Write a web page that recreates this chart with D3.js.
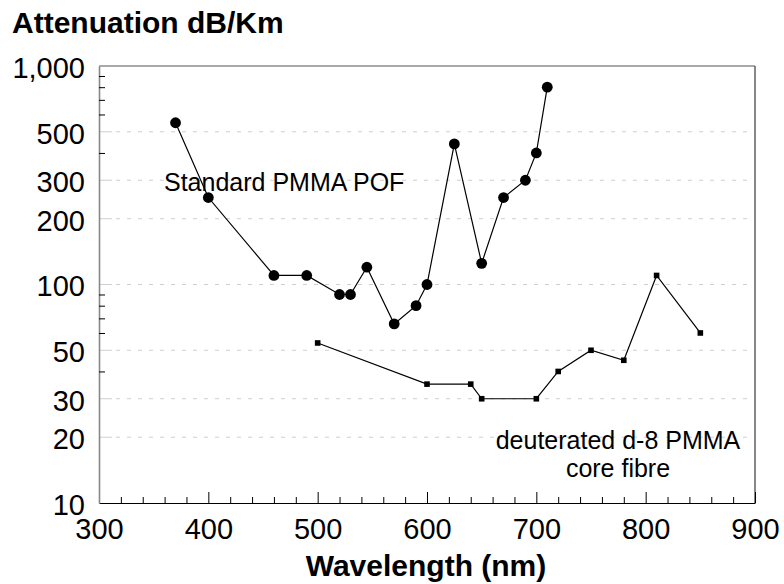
<!DOCTYPE html>
<html>
<head>
<meta charset="utf-8">
<script src="https://cdn.jsdelivr.net/npm/d3@7.9.0/dist/d3.min.js"></script>
<style>
  body { margin: 0; background: #fff; }
  svg { font-family: "Liberation Sans", Arial, sans-serif; }
</style>
</head>
<body>
<svg id="chart" width="784" height="584"></svg>
<script>
// standard PMMA POF (circles)
const pmmaWl = [370, 400, 460, 490, 520, 530, 545, 570, 590, 600, 625, 650, 670, 690, 700, 710];
const pmmaAtt = [550, 250, 110, 110, 90, 90, 120, 66, 80, 100, 440, 125, 250, 300, 400, 800];

// deuterated d-8 PMMA core fibre (squares)
const deutWl = [500, 600, 640, 650, 700, 720, 750, 780, 810, 850];
const deutAtt = [54, 35, 35, 30, 30, 40, 50, 45, 110, 60];

const xMajor = [300, 400, 500, 600, 700, 800, 900];
const xMinor = d3.range(320, 900, 20).filter(v => v % 100 !== 0);
const yMajor = [10, 20, 30, 50, 100, 200, 300, 500, 1000];
const yGrid = [20, 30, 50, 100, 200, 300, 500];
const yMinor = [40, 60, 70, 80, 90, 400, 600, 700, 800, 900];

const svg = d3.select("#chart");
const plotL = 99, plotR = 755, plotT = 66, plotB = 503;

const x = d3.scaleLinear().domain([300, 900]).range([plotL, plotR]);
const y = d3.scaleLog().domain([10, 1000]).range([plotB, plotT]);

// gridlines
const grid = svg.append("g");
yGrid.forEach(v => {
  grid.append("line")
    .attr("x1", plotL).attr("x2", plotL + 13)
    .attr("y1", y(v)).attr("y2", y(v))
    .attr("stroke", "#cfcfcf").attr("stroke-width", 1);
  grid.append("line")
    .attr("x1", plotL + 17).attr("x2", plotR - 7)
    .attr("y1", y(v)).attr("y2", y(v))
    .attr("stroke", "#cfcfcf").attr("stroke-width", 1)
    .attr("stroke-dasharray", "4 7");
});

// frame: top and right
svg.append("line")
  .attr("x1", plotL).attr("x2", plotR).attr("y1", plotT).attr("y2", plotT)
  .attr("stroke", "#555").attr("stroke-width", 1.2);
svg.append("line")
  .attr("x1", plotR).attr("x2", plotR).attr("y1", plotT).attr("y2", plotB)
  .attr("stroke", "#555").attr("stroke-width", 1.4);

// x axis
const xAxis = svg.append("g").attr("transform", `translate(0,${plotB})`)
  .call(d3.axisBottom(x).tickValues(xMajor).tickSize(-11).tickPadding(15).tickSizeOuter(0));
xAxis.select(".domain").attr("stroke", "#000");
xAxis.selectAll("text").attr("font-size", 29).attr("fill", "#000")
  .attr("font-family", "Liberation Sans, Arial, sans-serif");
svg.append("g").attr("transform", `translate(0,${plotB})`)
  .call(d3.axisBottom(x).tickValues(xMinor).tickSize(-6).tickFormat(""))
  .select(".domain").remove();

// y axis
const yAxis = svg.append("g").attr("transform", `translate(${plotL},0)`)
  .call(d3.axisLeft(y).tickValues(yMajor).tickSize(0).tickPadding(14)
    .tickFormat(d3.format(",")));
yAxis.select(".domain").attr("stroke", "#888").attr("stroke-width", 1.6);
yAxis.selectAll("text").attr("font-size", 29).attr("fill", "#000").attr("y", 2)
  .attr("font-family", "Liberation Sans, Arial, sans-serif");
svg.append("g").attr("transform", `translate(${plotL},0)`)
  .call(d3.axisLeft(y).tickValues(yMinor).tickSize(-6).tickFormat(""))
  .select(".domain").remove();

// series
const pmma = pmmaWl.map((w, i) => ({ w, a: pmmaAtt[i] }));
const deut = deutWl.map((w, i) => ({ w, a: deutAtt[i] }));
const line = d3.line().x(d => x(d.w)).y(d => y(d.a));

svg.append("path").datum(pmma).attr("d", line)
  .attr("fill", "none").attr("stroke", "#000").attr("stroke-width", 1.2);
svg.append("path").datum(deut).attr("d", line)
  .attr("fill", "none").attr("stroke", "#000").attr("stroke-width", 1.2);

svg.selectAll(".dot").data(pmma).join("circle")
  .attr("cx", d => x(d.w)).attr("cy", d => y(d.a)).attr("r", 5.4)
  .attr("fill", "#000");
svg.selectAll(".sq").data(deut).join("rect")
  .attr("x", d => x(d.w) - 2.8).attr("y", d => y(d.a) - 2.8)
  .attr("width", 5.6).attr("height", 5.6).attr("fill", "#000");

// labels
svg.append("text").attr("x", 12).attr("y", 33)
  .attr("font-size", 30).attr("font-weight", "bold")
  .text("Attenuation dB/Km");
svg.append("text").attr("x", 426).attr("y", 576).attr("text-anchor", "middle")
  .attr("font-size", 30).attr("font-weight", "bold")
  .text("Wavelength (nm)");
svg.append("text").attr("x", 164).attr("y", 191)
  .attr("font-size", 25).text("Standard PMMA POF");
svg.append("text").attr("x", 618).attr("y", 449).attr("text-anchor", "middle")
  .attr("font-size", 25).text("deuterated d-8 PMMA");
svg.append("text").attr("x", 618).attr("y", 477).attr("text-anchor", "middle")
  .attr("font-size", 25).text("core fibre");
</script>
</body>
</html>
